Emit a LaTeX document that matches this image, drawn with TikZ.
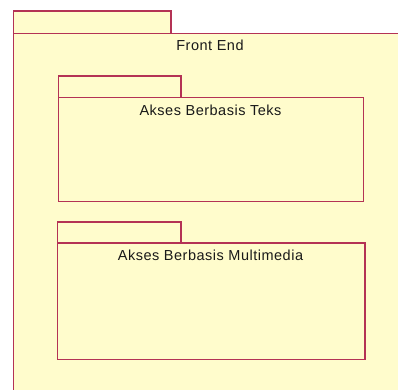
\documentclass[tikz,border=0pt]{standalone}
\usepackage{fontspec}
\setmainfont{Liberation Sans}
\newfontfamily\pkgfont[LetterSpace=3.5]{Liberation Sans}
\definecolor{pkgfill}{RGB}{255,252,204}
\definecolor{pkgline}{RGB}{180,50,85}
\tikzset{
  pkgbox/.style={draw=pkgline, fill=pkgfill, line width=1.2pt, rectangle, inner sep=0pt, outer sep=0pt, anchor=north west},
  pkglabel/.style={anchor=base, inner sep=0pt, text=black!90, font=\pkgfont\fontsize{14.5}{17}\selectfont}
}
\begin{document}
\begin{tikzpicture}[x=1pt,y=-1pt]
\useasboundingbox (0,0) rectangle (398,389);
\clip (0,0) rectangle (398,389);
% outer package
\node[pkgbox, minimum width=157.5pt, minimum height=22.5pt] (fetab) at (13.5,11) {};
\node[pkgbox, minimum width=400pt, minimum height=370pt] (febody) at (13.5,33.5) {};
\node[pkglabel] (felabel) at (210,50) {Front End};
% inner package 1
\node[pkgbox, minimum width=122.5pt, minimum height=21.5pt] (tekstab) at (58.5,76) {};
\node[pkgbox, minimum width=305pt, minimum height=104pt] (teksbody) at (58.5,97.5) {};
\node[pkglabel] (tekslabel) at (210.5,115) {Akses Berbasis Teks};
% inner package 2
\node[pkgbox, minimum width=123.5pt, minimum height=21pt] (mmtab) at (57.5,222) {};
\node[pkgbox, minimum width=307.5pt, minimum height=116.5pt] (mmbody) at (57.5,243) {};
\node[pkglabel] (mmlabel) at (210.5,260.5) {Akses Berbasis Multimedia};
\end{tikzpicture}
\end{document}
